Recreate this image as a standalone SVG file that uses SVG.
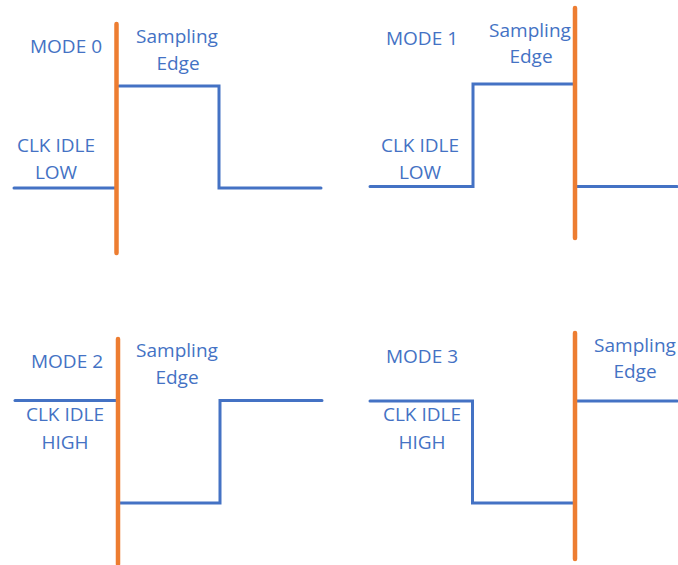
<svg xmlns="http://www.w3.org/2000/svg" width="678" height="565" viewBox="0 0 678 565">
  <style>
    .wave { fill: none; stroke: #4472C4; stroke-width: 3; stroke-linecap: round; stroke-linejoin: miter; }
    .edge { fill: none; stroke: #ED7D31; stroke-width: 4.5; stroke-linecap: round; }
    .lbl { font-family: "Open Sans", "Liberation Sans", sans-serif; font-size: 19px; fill: #4472C4; text-anchor: middle; }
  </style>
  <rect width="678" height="565" fill="#FFFFFF"/>

  <!-- SPI mode 0: idle low, sample on rising edge -->
  <g id="mode0">
    <polyline class="wave" points="14,188 116,188"/>
    <polyline class="wave" points="119,86 219,86 219,188 321,188"/>
    <line class="edge" x1="116.5" y1="24" x2="116.5" y2="253"/>
    <text class="lbl" x="66" y="53">MODE 0</text>
    <text class="lbl" x="177" y="43">Sampling</text>
    <text class="lbl" x="178" y="70">Edge</text>
    <text class="lbl" x="56" y="152">CLK IDLE</text>
    <text class="lbl" x="56" y="179">LOW</text>
  </g>

  <!-- SPI mode 1: idle low, sample on falling edge -->
  <g id="mode1">
    <polyline class="wave" points="370,186.5 473,186.5 473,84 573,84"/>
    <polyline class="wave" points="577,186.5 677,186.5"/>
    <line class="edge" x1="575" y1="8" x2="575" y2="238"/>
    <text class="lbl" x="422" y="45">MODE 1</text>
    <text class="lbl" x="530" y="37">Sampling</text>
    <text class="lbl" x="531" y="63">Edge</text>
    <text class="lbl" x="420" y="152">CLK IDLE</text>
    <text class="lbl" x="420" y="179">LOW</text>
  </g>

  <!-- SPI mode 2: idle high, sample on falling edge -->
  <g id="mode2">
    <polyline class="wave" points="15,400.5 116,400.5"/>
    <polyline class="wave" points="120,503 220,503 220,400.5 322,400.5"/>
    <line class="edge" x1="118" y1="339" x2="118" y2="564"/>
    <text class="lbl" x="67" y="368">MODE 2</text>
    <text class="lbl" x="177" y="357">Sampling</text>
    <text class="lbl" x="177" y="384">Edge</text>
    <text class="lbl" x="65" y="421">CLK IDLE</text>
    <text class="lbl" x="65" y="449">HIGH</text>
  </g>

  <!-- SPI mode 3: idle high, sample on rising edge -->
  <g id="mode3">
    <polyline class="wave" points="370,401 472.5,401 472.5,503 573,503"/>
    <polyline class="wave" points="577,401 677,401"/>
    <line class="edge" x1="575" y1="333" x2="575" y2="559"/>
    <text class="lbl" x="422" y="363">MODE 3</text>
    <text class="lbl" x="635" y="352">Sampling</text>
    <text class="lbl" x="635" y="378">Edge</text>
    <text class="lbl" x="422" y="421">CLK IDLE</text>
    <text class="lbl" x="422" y="449">HIGH</text>
  </g>
</svg>
